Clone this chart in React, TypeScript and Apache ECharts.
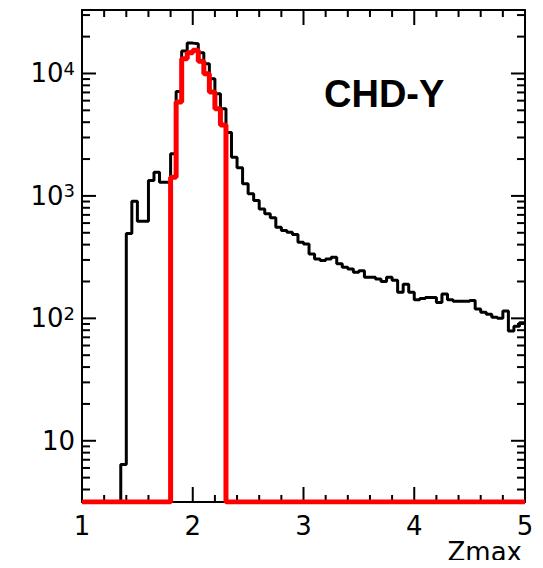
import React, { useEffect, useRef } from "react";
import * as echarts from "echarts";

// Histogram binning (lower edge of first bin, bin width) in Zmax units
const binStart = 1.0;
const binWidth = 0.05;
const xEnd = 5.0;

// All candidates (black), one value per 0.05 bin from 1.00 to 4.95
const allCounts = [
  0, 0, 0, 0, 0, 0, 0, 6.4, 494, 906,
  620, 620, 1336, 1560, 1295, 1295, 2210, 7140, 15240, 17700,
  17500, 14800, 12000, 9060, 6840, 5150, 3300, 2070, 1700, 1256,
  1040, 916, 783, 714, 662, 555, 521, 505, 483, 418,
  405, 336, 306, 297, 306, 315, 279, 261, 253, 238,
  245, 217, 217, 210, 200, 217, 205, 163, 190, 163,
  142, 145, 148, 148, 135, 158, 142, 138, 138, 138,
  140, 119, 112, 108, 102, 100, 115, 79, 86, 92,
];

// Selected CHD-Y window (red)
const selectedCounts = [
  0, 0, 0, 0, 0, 0, 0, 0, 0, 0,
  0, 0, 0, 0, 0, 0, 1420, 5840, 13200, 14800,
  15500, 12600, 9950, 7050, 5150, 3800, 0, 0, 0, 0,
  0, 0, 0, 0, 0, 0, 0, 0, 0, 0,
  0, 0, 0, 0, 0, 0, 0, 0, 0, 0,
  0, 0, 0, 0, 0, 0, 0, 0, 0, 0,
  0, 0, 0, 0, 0, 0, 0, 0, 0, 0,
  0, 0, 0, 0, 0, 0, 0, 0, 0, 0,
];

const xTickValues = [1, 2, 3, 4, 5];
const xMinorSteps = [0.2, 0.4, 0.6, 0.8];
const yMajorTicks = [10, 100, 1000, 10000];
const yMinorMantissas = [2, 3, 4, 5, 6, 7, 8, 9];
const yDecades = [1, 10, 100, 1000, 10000];
const yMin = 3.1623;
const yMax = 33000;

const titleText = "CHD-Y";
const xName = "Zmax";

const FONT = "'DejaVu Sans', 'Liberation Sans', Arial, sans-serif";
const TITLE_FONT = "'Liberation Sans', Arial, Helvetica, sans-serif";

function stepData(values: number[]) {
  const pts: [number, number][] = values.map((v, i) => [
    +(binStart + i * binWidth).toFixed(3),
    v > yMin ? v : yMin,
  ]);
  const last = values[values.length - 1];
  pts.push([xEnd, last > yMin ? last : yMin]);
  return pts;
}

function xTickSeries(vals: number[], len: number) {
  return {
    type: "custom",
    clip: false,
    data: vals.map((v) => [v, 10]),
    renderItem: (params: any, api: any) => {
      const b = api.coord([api.value(0), yMin]);
      const t = api.coord([api.value(0), yMax]);
      return {
        type: "group",
        children: [
          { type: "line", shape: { x1: b[0], y1: b[1], x2: b[0], y2: b[1] - len }, style: { stroke: "#000", lineWidth: 2 } },
          { type: "line", shape: { x1: t[0], y1: t[1], x2: t[0], y2: t[1] + len }, style: { stroke: "#000", lineWidth: 2 } },
        ],
      };
    },
  };
}

function yTickSeries(vals: number[], len: number) {
  return {
    type: "custom",
    clip: false,
    data: vals.map((v) => [2, v]),
    renderItem: (params: any, api: any) => {
      const l = api.coord([1, api.value(1)]);
      const r = api.coord([xEnd, api.value(1)]);
      return {
        type: "group",
        children: [
          { type: "line", shape: { x1: l[0], y1: l[1], x2: l[0] + len, y2: l[1] }, style: { stroke: "#000", lineWidth: 2 } },
          { type: "line", shape: { x1: r[0], y1: r[1], x2: r[0] - len, y2: r[1] }, style: { stroke: "#000", lineWidth: 2 } },
        ],
      };
    },
  };
}

export default function App() {
  const ref = useRef<HTMLDivElement>(null);
  useEffect(() => {
    if (!ref.current) return;
    const chart = echarts.init(ref.current, undefined, { renderer: "svg" });

    const xMinor: number[] = [];
    xTickValues.forEach((v) =>
      xMinorSteps.forEach((s) => {
        if (v + s < xEnd) xMinor.push(+(v + s).toFixed(2));
      })
    );
    const yMinor: number[] = [];
    yDecades.forEach((d) =>
      yMinorMantissas.forEach((m) => {
        const v = d * m;
        if (v > yMin && v < yMax) yMinor.push(v);
      })
    );

    const frameLine = { color: "#000", width: 2 };
    const option: any = {
      animation: false,
      title: [
        {
          text: titleText,
          left: 319,
          top: 70,
          textStyle: { fontSize: 38, fontWeight: "bold", fontFamily: TITLE_FONT, color: "#000" },
        },
        {
          text: xName,
          right: 16,
          top: 534,
          textStyle: { fontSize: 26, fontWeight: "normal", fontFamily: FONT, color: "#000" },
        },
      ],
      grid: { left: 82, top: 10, width: 443, height: 492 },
      xAxis: [
        {
          type: "value", min: 1, max: 5, interval: 1, position: "bottom",
          splitLine: { show: false },
          axisLine: { show: true, lineStyle: frameLine },
          axisTick: { show: false },
          axisLabel: { show: true, color: "#000", fontSize: 26, fontFamily: FONT, margin: 11 },
        },
        {
          type: "value", min: 1, max: 5, interval: 1, position: "top",
          splitLine: { show: false },
          axisLine: { show: true, lineStyle: frameLine },
          axisTick: { show: false },
          axisLabel: { show: false },
        },
      ],
      yAxis: [
        {
          type: "log", min: yMin, max: yMax, logBase: 10, position: "left",
          splitLine: { show: false },
          axisLine: { show: true, lineStyle: frameLine },
          axisTick: { show: false },
          axisLabel: {
            show: true, margin: 7, showMinLabel: false, showMaxLabel: false,
            formatter: (v: number) => {
              const e = Math.log10(v);
              if (Math.abs(e - Math.round(e)) > 1e-6) return "";
              const n = Math.round(e);
              return n === 1 ? "{b|10}" : `{b|10}{s|${n}}`;
            },
            rich: {
              b: { fontSize: 26, fontFamily: FONT, color: "#000", lineHeight: 28 },
              s: { fontSize: 18, fontFamily: FONT, color: "#000", lineHeight: 18, verticalAlign: "top" },
            },
          },
        },
        {
          type: "log", min: yMin, max: yMax, logBase: 10, position: "right",
          splitLine: { show: false },
          axisLine: { show: true, lineStyle: frameLine },
          axisTick: { show: false },
          axisLabel: { show: false },
        },
      ],
      series: [
        xTickSeries(xTickValues, 15),
        xTickSeries(xMinor, 7),
        yTickSeries(yMajorTicks, 14),
        yTickSeries(yMinor, 8),
        {
          name: "all", type: "line", step: "end",
          data: stepData(allCounts),
          symbol: "none", showSymbol: false,
          lineStyle: { color: "#000", width: 3 }, z: 3,
        },
        {
          name: "selected", type: "line", step: "end",
          data: stepData(selectedCounts),
          symbol: "none", showSymbol: false,
          lineStyle: { color: "#ff0000", width: 5 }, z: 4,
        },
      ],
    };
    chart.setOption(option);
    return () => chart.dispose();
  }, []);
  return <div ref={ref} style={{ width: 543, height: 568, margin: -8, background: "#fff" }} />;
}
